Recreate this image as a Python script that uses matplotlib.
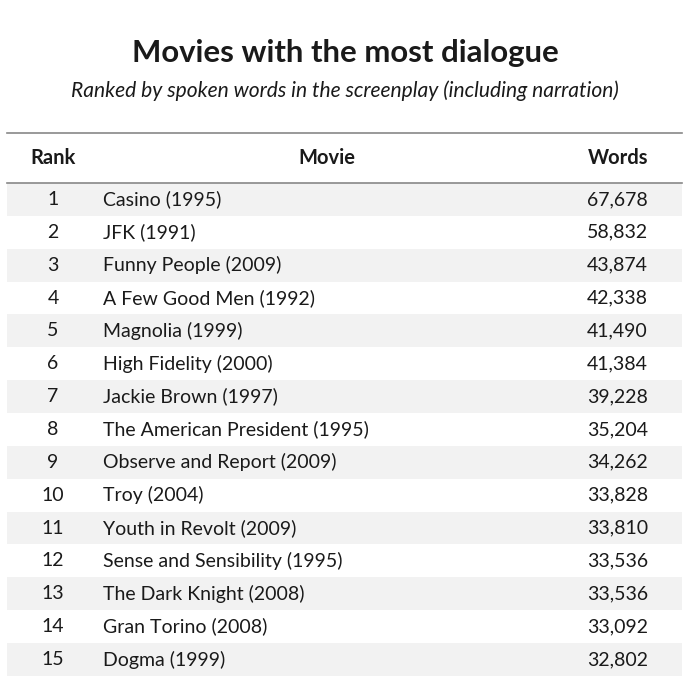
import matplotlib.pyplot as plt
from matplotlib.patches import Rectangle

plt.rcParams['font.family'] = ['Lato', 'DejaVu Sans']

ranks = list(range(1, 16))
movies = ["Casino (1995)", "JFK (1991)", "Funny People (2009)", "A Few Good Men (1992)",
          "Magnolia (1999)", "High Fidelity (2000)", "Jackie Brown (1997)",
          "The American President (1995)", "Observe and Report (2009)", "Troy (2004)",
          "Youth in Revolt (2009)", "Sense and Sensibility (1995)", "The Dark Knight (2008)",
          "Gran Torino (2008)", "Dogma (1999)"]
words = [67678, 58832, 43874, 42338, 41490, 41384, 39228, 35204, 34262, 33828,
         33810, 33536, 33536, 33092, 32802]

fig = plt.figure(figsize=(7, 6.9), dpi=100)
ax = fig.add_axes([0, 0, 1, 1])
ax.set_xlim(0, 700)
ax.set_ylim(690, 0)
ax.axis('off')

txt = '#1a1a1a'
ax.text(345, 53, "Movies with the most dialogue", ha='center', va='center',
        fontsize=22.4, fontweight='bold', color=txt)
ax.text(345, 91, "Ranked by spoken words in the screenplay (including narration)",
        ha='center', va='center', fontsize=15.1, style='italic', color=txt)

left, right = 7, 682
ax.plot([left, right], [133, 133], color='#888888', lw=1.2)
ax.plot([left, right], [183, 183], color='#888888', lw=1.2)

hs = 14.5
ax.text(53, 158, "Rank", ha='center', va='center', fontsize=hs, fontweight='bold', color=txt)
ax.text(327, 158, "Movie", ha='center', va='center', fontsize=hs, fontweight='bold', color=txt)
ax.text(648, 158, "Words", ha='right', va='center', fontsize=hs, fontweight='bold', color=txt)

fs = 14
row_h = 32.86
y0 = 183
for i, (r, m, w) in enumerate(zip(ranks, movies, words)):
    top = y0 + i * row_h
    yc = top + row_h / 2
    if i % 2 == 0:
        ax.add_patch(Rectangle((left, top), right - left, row_h, color='#f2f2f2', lw=0, zorder=0))
    ax.text(53, yc, str(r), ha='center', va='center', fontsize=fs, color=txt)
    ax.text(103, yc, m, ha='left', va='center', fontsize=fs, color=txt)
    ax.text(648, yc, f"{w:,}", ha='right', va='center', fontsize=fs, color=txt)

fig.savefig("out.png", dpi=100)
